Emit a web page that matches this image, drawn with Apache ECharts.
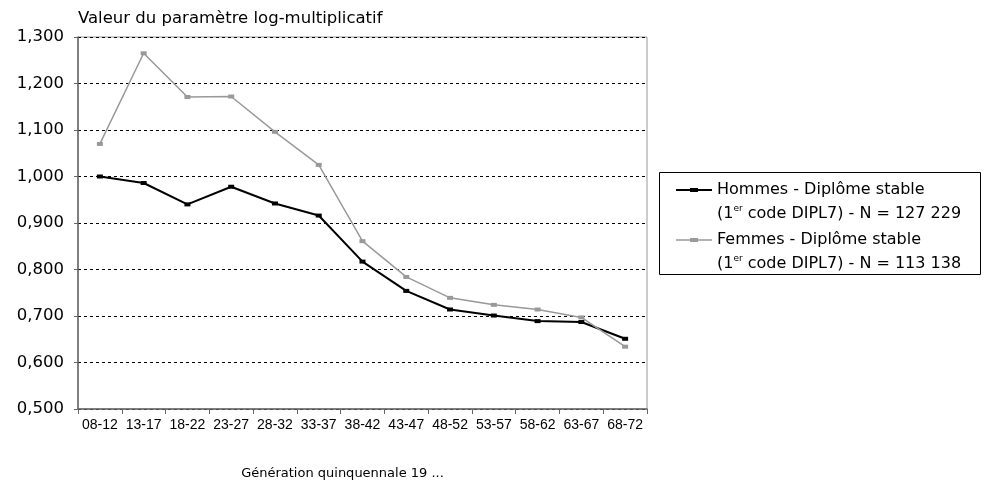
<!DOCTYPE html>
<html><head><meta charset="utf-8">
<script src="https://cdn.jsdelivr.net/npm/echarts@6/dist/echarts.min.js"></script>
<style>html,body{margin:0;padding:0;background:#fff}#c{width:995px;height:485px}</style>
</head><body><div id="c"></div>
<script>
const categories = ['08-12','13-17','18-22','23-27','28-32','33-37','38-42','43-47','48-52','53-57','58-62','63-67','68-72'];
const hommes = [1.000,0.986,0.940,0.978,0.942,0.916,0.817,0.754,0.714,0.701,0.689,0.687,0.651];
const femmes = [1.070,1.265,1.171,1.172,1.096,1.025,0.861,0.784,0.739,0.724,0.714,0.697,0.634];
const seriesNames = ['Hommes - Diplôme stable', 'Femmes - Diplôme stable'];
const seriesN = ['127 229', '113 138'];
const yMin = 0.5, yMax = 1.3, yStep = 0.1;

const FONT = 'DejaVu Sans';
const chart = echarts.init(document.getElementById('c'));
const colors = ['#000000', '#999999'];

function legendItem(i, y) {
  return {
    type: 'group', x: 0, y: y, children: [
      { type: 'line', shape: { x1: 676, y1: 0, x2: 712, y2: 0 }, style: { stroke: colors[i], lineWidth: i === 0 ? 2 : 1.5 } },
      { type: 'rect', shape: { x: 690, y: -2, width: 8, height: 4 }, style: { fill: colors[i] } },
      { type: 'text', x: 717, y: -12, style: {
          rich: {
            a: { fontFamily: FONT, fontSize: 16, fill: '#000', lineHeight: 24 },
            s: { fontFamily: FONT, fontSize: 9, fill: '#000', lineHeight: 24, padding: [0, 0, 10, 0] }
          },
          text: '{a|' + seriesNames[i] + '}\n{a|(1}{s|er}{a| code DIPL7) - N = ' + seriesN[i] + '}'
      } }
    ]
  };
}

chart.setOption({
  animation: false,
  grid: { left: 78, right: 348, top: 37, bottom: 75, show: true, borderColor: '#999', borderWidth: 1 },
  xAxis: {
    type: 'category', data: categories, boundaryGap: true,
    name: 'Génération quinquennale 19 ...', nameLocation: 'middle', nameGap: 58,
    nameTextStyle: { fontFamily: FONT, fontSize: 13, color: '#000', padding: [0, 40, 0, 0] },
    axisLine: { lineStyle: { color: '#666', width: 1.5 } },
    axisTick: { show: true, alignWithLabel: false, length: 5, lineStyle: { color: '#666' } },
    axisLabel: { fontFamily: 'Liberation Sans', fontSize: 14, color: '#000', margin: 9, interval: 0 },
    splitLine: { show: false }
  },
  yAxis: {
    type: 'value', min: yMin, max: yMax, interval: yStep,
    name: 'Valeur du paramètre log-multiplicatif', nameLocation: 'end', nameGap: 10,
    nameTextStyle: { fontFamily: FONT, fontSize: 16.5, color: '#000', align: 'left', padding: [0, 0, 0, 0] },
    axisLine: { show: true, lineStyle: { color: '#666', width: 1.5 } },
    axisTick: { show: true, length: 4, lineStyle: { color: '#666' } },
    axisLabel: { fontFamily: FONT, fontSize: 16.5, color: '#000', margin: 14,
      formatter: v => v.toFixed(3).replace('.', ',') },
    splitLine: { show: true, lineStyle: { color: '#000', type: [3, 3], width: 1 } }
  },
  series: [
    { name: seriesNames[0], type: 'line', data: hommes, symbol: 'rect', symbolSize: [6, 4],
      lineStyle: { color: colors[0], width: 2 }, itemStyle: { color: colors[0] } },
    { name: seriesNames[1], type: 'line', data: femmes, symbol: 'rect', symbolSize: [6, 4],
      lineStyle: { color: colors[1], width: 1.5 }, itemStyle: { color: colors[1] } }
  ],
  graphic: [
    { type: 'rect', shape: { x: 659.5, y: 172.5, width: 321, height: 102 }, style: { fill: '#fff', stroke: '#000', lineWidth: 1 } },
    legendItem(0, 190),
    legendItem(1, 240)
  ]
});
</script></body></html>
